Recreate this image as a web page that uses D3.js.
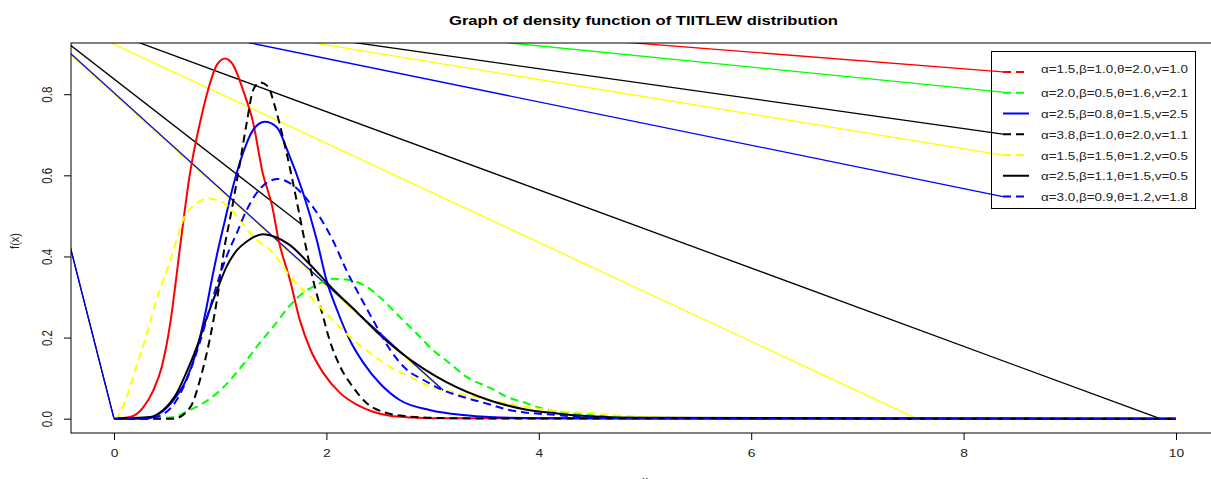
<!DOCTYPE html>
<html>
<head>
<meta charset="utf-8">
<script src="https://cdnjs.cloudflare.com/ajax/libs/d3/7.8.5/d3.min.js"></script>
<style>
  body { margin: 0; background: #fff; }
  svg { display: block; font-family: "Liberation Sans", Arial, sans-serif; }
</style>
</head>
<body>
<div id="chart"></div>
<script>
// Значения
const seriesLabels = [
    'α=1.5,β=1.0,θ=2.0,v=1.0',
    'α=2.0,β=0.5,θ=1.6,v=2.1',
    'α=2.5,β=0.8,θ=1.5,v=2.5',
    'α=3.8,β=1.0,θ=2.0,v=1.1',
    'α=1.5,β=1.5,θ=1.2,v=0.5',
    'α=2.5,β=1.1,θ=1.5,v=0.5',
    'α=3.0,β=0.9,θ=1.2,v=1.8'
];

const redX = [0, 0.15, 0.27, 0.37, 0.45, 0.53, 0.585, 0.63, 0.716, 0.81, 0.885, 0.97, 1.045, 1.12, 1.215, 1.31, 1.40, 1.49, 1.55, 1.657, 1.75, 1.85, 1.97, 2.13, 2.29, 2.44, 2.6, 2.8, 3.0, 10];
const redY = [0, 0.004, 0.026, 0.07, 0.128, 0.236, 0.345, 0.44, 0.606, 0.73, 0.81, 0.873, 0.888, 0.873, 0.81, 0.73, 0.606, 0.523, 0.44, 0.342, 0.243, 0.17, 0.113, 0.063, 0.034, 0.017, 0.007, 0.003, 0.001, 0];

const greenX = [0, 0.31, 0.56, 0.68, 0.84, 1.0, 1.12, 1.25, 1.37, 1.5, 1.66, 1.78, 1.91, 2.06, 2.22, 2.38, 2.53, 2.69, 2.85, 3.0, 3.16, 3.32, 3.54, 3.7, 3.85, 4.01, 4.17, 4.48, 4.79, 5.5, 10];
const greenY = [0, 0, 0.004, 0.017, 0.038, 0.07, 0.103, 0.145, 0.186, 0.227, 0.28, 0.31, 0.33, 0.345, 0.342, 0.325, 0.293, 0.251, 0.21, 0.17, 0.137, 0.103, 0.076, 0.054, 0.041, 0.027, 0.018, 0.009, 0.004, 0.001, 0];

const blueX = [0, 0.31, 0.43, 0.56, 0.68, 0.78, 0.86, 0.93, 1.0, 1.03, 1.12, 1.215, 1.31, 1.42, 1.535, 1.63, 1.78, 1.91, 2.0, 2.10, 2.22, 2.35, 2.5, 2.69, 2.98, 3.29, 3.54, 4.0, 10];
const blueY = [0, 0, 0.013, 0.046, 0.096, 0.17, 0.26, 0.355, 0.44, 0.473, 0.572, 0.655, 0.712, 0.732, 0.718, 0.663, 0.557, 0.44, 0.342, 0.268, 0.194, 0.137, 0.088, 0.046, 0.021, 0.009, 0.004, 0.001, 0];

const blackDashX = [0, 0.56, 0.72, 0.81, 0.90, 0.98, 1.045, 1.09, 1.17, 1.25, 1.31, 1.375, 1.45, 1.515, 1.58, 1.64, 1.71, 1.78, 1.875, 1.96, 2.03, 2.13, 2.25, 2.38, 2.53, 2.76, 3.0, 3.5, 10];
const blackDashY = [0, 0, 0.029, 0.096, 0.194, 0.31, 0.43, 0.49, 0.606, 0.73, 0.81, 0.829, 0.819, 0.77, 0.705, 0.638, 0.55, 0.458, 0.342, 0.26, 0.194, 0.128, 0.078, 0.038, 0.017, 0.006, 0.002, 0.0005, 0];

const yellowX = [0, 0.03, 0.12, 0.21, 0.31, 0.40, 0.50, 0.59, 0.65, 0.78, 0.885, 1.03, 1.16, 1.28, 1.35, 1.5, 1.66, 1.85, 2.03, 2.22, 2.41, 2.6, 2.79, 2.98, 3.23, 3.54, 3.85, 4.17, 4.48, 4.79, 5.42, 10];
const yellowY = [0, 0.004, 0.054, 0.128, 0.21, 0.293, 0.367, 0.44, 0.49, 0.532, 0.543, 0.532, 0.498, 0.458, 0.44, 0.408, 0.35, 0.30, 0.251, 0.202, 0.162, 0.128, 0.103, 0.079, 0.063, 0.046, 0.03, 0.019, 0.014, 0.007, 0.002, 0];

const blackX = [0, 0.34, 0.46, 0.59, 0.68, 0.78, 0.875, 0.97, 1.06, 1.16, 1.25, 1.4, 1.52, 1.657, 1.845, 2.06, 2.29, 2.47, 2.69, 2.91, 3.13, 3.54, 3.85, 4.17, 4.48, 5.0, 10];
const blackY = [0, 0.004, 0.021, 0.063, 0.113, 0.177, 0.25, 0.317, 0.375, 0.416, 0.437, 0.455, 0.448, 0.428, 0.38, 0.32, 0.262, 0.215, 0.165, 0.124, 0.09, 0.045, 0.024, 0.013, 0.006, 0.002, 0];

const blueDashX = [0, 0.3, 0.4, 0.59, 0.72, 0.81, 0.9, 0.98, 1.06, 1.16, 1.25, 1.345, 1.44, 1.545, 1.66, 1.85, 2.06, 2.19, 2.32, 2.44, 2.6, 2.76, 2.91, 3.1, 3.32, 3.54, 3.73, 4.17, 4.48, 5.0, 10];
const blueDashY = [0, 0, 0.004, 0.046, 0.12, 0.19, 0.27, 0.34, 0.40, 0.46, 0.515, 0.557, 0.582, 0.591, 0.58, 0.53, 0.44, 0.365, 0.30, 0.243, 0.17, 0.12, 0.096, 0.07, 0.051, 0.035, 0.021, 0.009, 0.003, 0.001, 0];

// прямые "хвосты", которые видны на исходном графике
const strayX0 = [3.75, 2.83, 1.65, 1.33, 0.84, 0.0, -0.22, -0.5, -0.5, -0.5, -0.5, -0.5];
const strayY0 = [0.95, 0.95, 0.95, 0.95, 0.95, 0.95, 0.95, 0.939, 0.919, 0.922, 0.514, 0.514];
const strayX1 = [8.37, 8.37, 8.37, 8.37, 8.37, 9.85, 7.56, 1.77, 3.1, 3.1, 0, 0];
const strayY1 = [0.855, 0.805, 0.7015, 0.650, 0.5475, 0, 0, 0.478, 0.067, 0.07, 0, 0];

const xTicks = [0, 2, 4, 6, 8, 10];
const yTicks = [0, 0.2, 0.4, 0.6, 0.8];

// стили
const seriesColor = ['#ff0000', '#00ff00', '#0000ff', '#000000', '#ffff00', '#000000', '#0000ff'];
const curveDash = [null, '8,5', null, '8,5', '8,5', null, '8,5'];
const legendDash = ['8,5', '8,5', null, '8,5', '8,5', null, '8,5'];
const strayColor = ['#ff0000', '#00ff00', '#000000', '#ffff00', '#0000ff', '#000000', '#ffff00', '#000000', '#ffff00', '#0000ff', '#000000', '#0000ff'];

const width = 1211, height = 479;
const plot = { left: 71, top: 43, right: 1219, bottom: 433 };

const x = d3.scaleLinear().domain([-0.405, 10.405]).range([plot.left, plot.right]);
const y = d3.scaleLinear().domain([-0.0353, 0.9263]).range([plot.bottom, plot.top]);

const svg = d3.select('#chart').append('svg')
    .attr('width', width)
    .attr('height', height);

svg.append('clipPath').attr('id', 'clip')
    .append('rect')
    .attr('x', plot.left).attr('y', plot.top)
    .attr('width', plot.right - plot.left).attr('height', plot.bottom - plot.top);

const series = [
    [redX, redY], [greenX, greenY], [blueX, blueY], [blackDashX, blackDashY],
    [yellowX, yellowY], [blackX, blackY], [blueDashX, blueDashY]
].map((s, i) => ({
    points: s[0].map((v, j) => [v, s[1][j]]),
    color: seriesColor[i],
    dash: curveDash[i]
}));

const g = svg.append('g').attr('clip-path', 'url(#clip)');

// прямые отрезки
g.selectAll('.stray')
    .data(strayX0.map((v, i) => ({ x0: v, y0: strayY0[i], x1: strayX1[i], y1: strayY1[i], c: strayColor[i] })))
    .enter().append('line')
    .attr('class', 'stray')
    .attr('x1', d => x(d.x0)).attr('y1', d => y(d.y0))
    .attr('x2', d => x(d.x1)).attr('y2', d => y(d.y1))
    .attr('stroke', d => d.c)
    .attr('stroke-width', 1.3);

const line = d3.line()
    .x(d => x(d[0]))
    .y(d => y(d[1]))
    .curve(d3.curveMonotoneX);

g.selectAll('.curve')
    .data(series)
    .enter().append('path')
    .attr('class', 'curve')
    .attr('d', d => line(d.points))
    .attr('fill', 'none')
    .attr('stroke', d => d.color)
    .attr('stroke-width', 2)
    .attr('stroke-dasharray', d => d.dash);

// рамка
svg.append('rect')
    .attr('x', plot.left).attr('y', plot.top)
    .attr('width', plot.right - plot.left).attr('height', plot.bottom - plot.top)
    .attr('fill', 'none')
    .attr('stroke', '#000')
    .attr('stroke-width', 1);

// оси (подписи немного растянуты по горизонтали, как на исходнике)
const xAxis = svg.append('g')
    .attr('transform', `translate(0,${plot.bottom})`)
    .call(d3.axisBottom(x).tickValues(xTicks).tickSize(7).tickPadding(9).tickFormat(d3.format('d')));
xAxis.select('.domain').remove();
xAxis.selectAll('text')
    .attr('font-size', 11.5).attr('fill', '#222').attr('font-family', null)
    .attr('transform', 'scale(1.2,1)');

const yAxis = svg.append('g')
    .attr('transform', `translate(${plot.left},0)`)
    .call(d3.axisLeft(y).tickValues(yTicks).tickSize(7).tickFormat(d3.format('.1f')));
yAxis.select('.domain').remove();
yAxis.selectAll('text')
    .attr('x', null).attr('dy', null)
    .attr('text-anchor', 'middle')
    .attr('transform', 'translate(-19,0) scale(1.2,1) rotate(-90)')
    .attr('font-size', 11.5).attr('fill', '#222').attr('font-family', null);

// подписи
svg.append('text')
    .attr('x', 449).attr('y', 25)
    .attr('font-size', 13.5).attr('font-weight', 'bold')
    .attr('textLength', 389).attr('lengthAdjust', 'spacingAndGlyphs')
    .text('Graph of density function of TIITLEW distribution');

svg.append('text')
    .attr('transform', 'translate(19,241) scale(1.2,1) rotate(-90)')
    .attr('text-anchor', 'middle')
    .attr('font-size', 11)
    .attr('fill', '#222')
    .text('f(x)');

svg.append('text')
    .attr('x', x(5)).attr('y', 484)
    .attr('text-anchor', 'middle')
    .attr('font-size', 11.5)
    .attr('fill', '#222')
    .text('x');

// легенда
const legend = svg.append('g');
legend.append('rect')
    .attr('x', 991.5).attr('y', 51.5)
    .attr('width', 204).attr('height', 157)
    .attr('fill', 'none').attr('stroke', '#000');

const rowY = i => 72 + i * 20.75;
seriesLabels.forEach((label, i) => {
    legend.append('line')
        .attr('x1', 1003).attr('x2', 1029)
        .attr('y1', rowY(i)).attr('y2', rowY(i))
        .attr('stroke', seriesColor[i])
        .attr('stroke-width', 2)
        .attr('stroke-dasharray', legendDash[i]);
    legend.append('text')
        .attr('x', 1041)
        .attr('y', rowY(i) + 4.5 - (i === 0 ? 4 : 0))
        .attr('font-size', 10.5)
        .attr('fill', '#222')
        .attr('textLength', 147).attr('lengthAdjust', 'spacingAndGlyphs')
        .text(label);
});
</script>
</body>
</html>
